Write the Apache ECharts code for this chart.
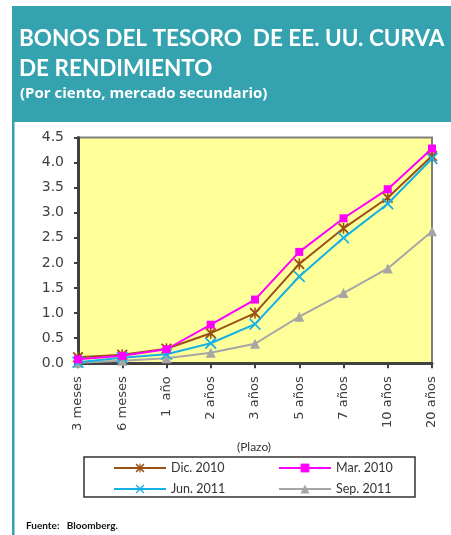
<!DOCTYPE html>
<html><head><meta charset="utf-8">
<script src="https://cdn.jsdelivr.net/npm/echarts@6/dist/echarts.min.js"></script>
<style>html,body{margin:0;padding:0;background:#fff}#c{width:451px;height:535px}</style>
</head><body><div id="c"></div>
<script>
const categories = ['3 meses','6 meses','1  año','2 años','3 años','5 años','7 años','10 años','20 años'];
const dic2010 = [0.12,0.17,0.29,0.60,1.00,1.98,2.69,3.30,4.13];
const mar2010 = [0.08,0.15,0.28,0.77,1.27,2.22,2.89,3.47,4.28];
const jun2011 = [0.02,0.11,0.18,0.40,0.78,1.73,2.50,3.18,4.08];
const sep2011 = [0.01,0.05,0.10,0.21,0.39,0.93,1.40,1.89,2.63];
const yTicks = [0,0.5,1,1.5,2,2.5,3,3.5,4,4.5];

const XPATH = 'path://M0,1 L1,0 L5,4 L9,0 L10,1 L6,5 L10,9 L9,10 L5,6 L1,10 L0,9 L4,5 Z';
const STARPATH = 'path://M0,1.2 L1.2,0 L5,3.8 L8.8,0 L10,1.2 L6.2,5 L10,8.8 L8.8,10 L5,6.2 L1.2,10 L0,8.8 L3.8,5 Z M4.3,0 L5.7,0 L5.7,10 L4.3,10 Z';

const chart = echarts.init(document.getElementById('c'));
const lab = {fontFamily:'Lato', fontSize:12.5, color:'#333'};
function mkSeries(name, data, color, symbol, size, z){
  return {name, type:'line', data, color, symbol, symbolSize:size, z,
    lineStyle:{color, width:2}, itemStyle:{color}, showAllSymbol:true, animation:false};
}
function mkLegend(name, left, top){
  return {data:[name], left, top, padding:0, itemWidth:52, itemHeight:11, itemGap:0,
    textStyle:lab, selectedMode:false};
}
chart.setOption({
  animation:false,
  backgroundColor:'#fff',
  graphic:[
    {type:'rect', shape:{x:12,y:6,width:439,height:116}, style:{fill:'#35A2AF'}, silent:true},
    {type:'rect', shape:{x:12,y:122,width:2.5,height:413}, style:{fill:'#35A2AF'}, silent:true},
    {type:'rect', shape:{x:84,y:457,width:331,height:40}, style:{fill:'none', stroke:'#333', lineWidth:1.5}, silent:true},
    {type:'text', x:254, y:447, style:{text:'(Plazo)', fill:'#333', font:'12px Lato', textAlign:'center', textVerticalAlign:'middle'}},
    {type:'text', x:26, y:526, style:{text:'Fuente:   Bloomberg.', fill:'#111', font:'bold 10px Lato', textAlign:'left', textVerticalAlign:'middle'}}
  ],
  title:[
    {text:'BONOS DEL TESORO  DE EE. UU. CURVA\nDE RENDIMIENTO', left:19, top:24, padding:0,
     textStyle:{color:'#fff', fontFamily:'Lato', fontWeight:'bold', fontSize:22.5, lineHeight:30}},
    {text:'(Por ciento, mercado secundario)', left:20, top:86, padding:0,
     textStyle:{color:'#fff', fontFamily:'Open Sans', fontWeight:'bold', fontSize:15}}
  ],
  grid:{left:78, right:19, top:137.5, bottom:171.7, show:true, backgroundColor:'#FFFF99', borderColor:'#7f7f7f', borderWidth:2},
  xAxis:{type:'category', data:categories, boundaryGap:false,
    axisLine:{lineStyle:{color:'#404040', width:3}},
    axisTick:{show:true, length:5, lineStyle:{color:'#404040', width:2}},
    axisLabel:{rotate:90, margin:13, fontFamily:'DejaVu Sans', fontSize:13, color:'#404040', interval:0}},
  yAxis:{type:'value', min:0, max:4.5, interval:0.5,
    axisLine:{show:true, lineStyle:{color:'#404040', width:3}},
    axisTick:{show:true, length:4, lineStyle:{color:'#404040', width:2}},
    splitLine:{show:false},
    axisLabel:{margin:14, fontFamily:'DejaVu Sans', fontSize:14, color:'#404040',
      formatter:v=>yTicks.includes(v)?v.toFixed(1):''}},
  legend:[
    mkLegend('Dic. 2010',113,461.5),
    mkLegend('Mar. 2010',278,461.5),
    mkLegend('Jun. 2011',113,482.5),
    mkLegend('Sep. 2011',278,482.5)
  ],
  series:[
    mkSeries('Sep. 2011', sep2011, '#A6A6A6', 'triangle', 10, 2),
    mkSeries('Dic. 2010', dic2010, '#9A5214', STARPATH, 11, 3),
    mkSeries('Jun. 2011', jun2011, '#14B0E6', XPATH, 12, 4),
    mkSeries('Mar. 2010', mar2010, '#FF00FF', 'rect', 8, 5)
  ]
});
</script></body></html>
